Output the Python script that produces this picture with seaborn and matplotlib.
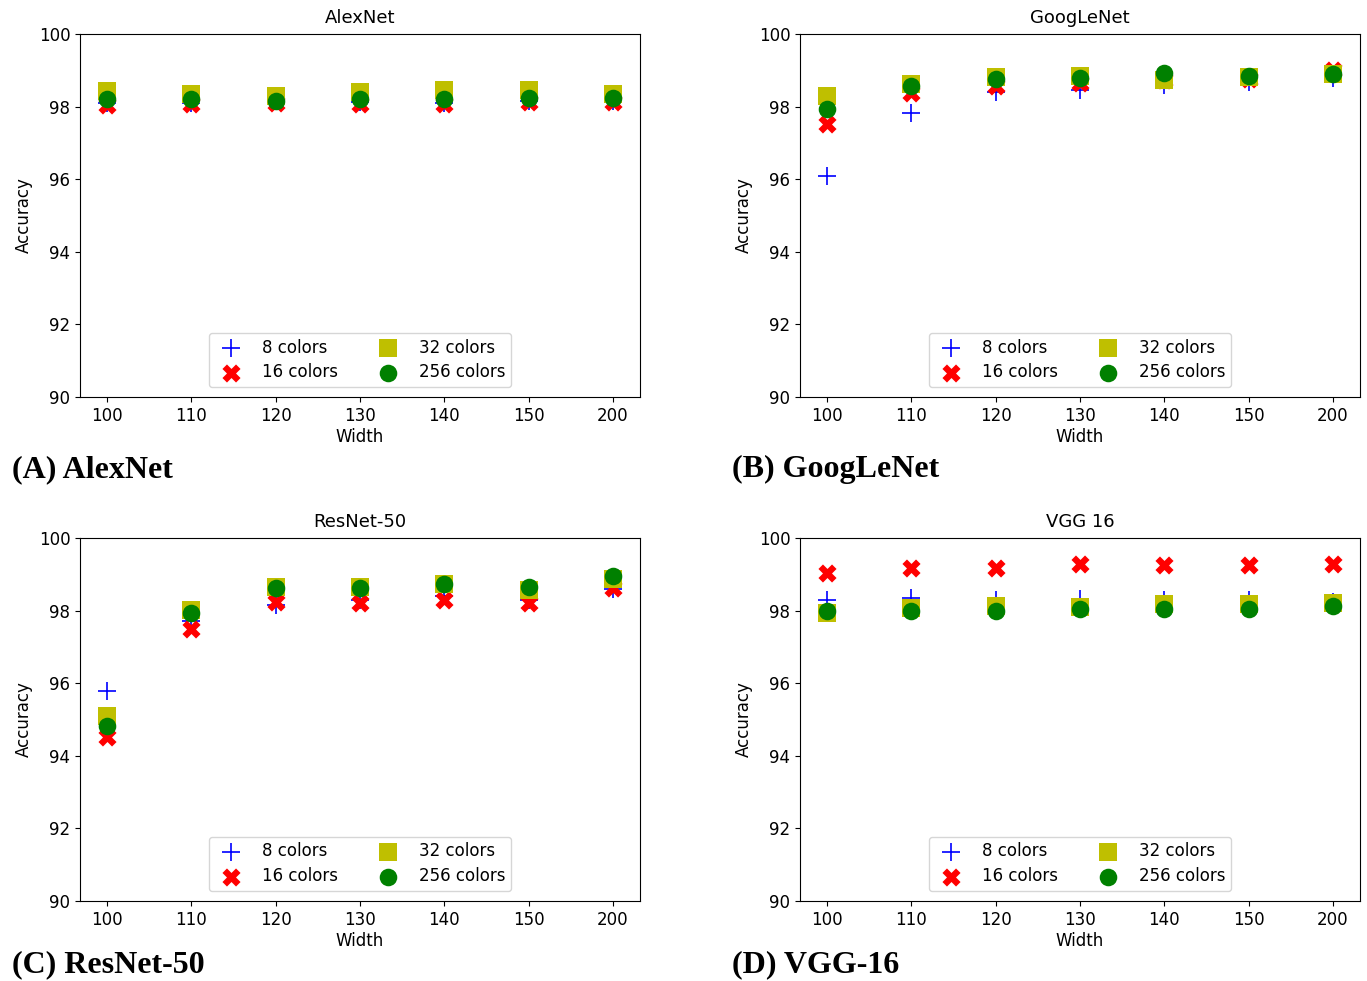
import numpy as np
import pandas as pd
import matplotlib
matplotlib.use('Agg')
import matplotlib.pyplot as plt
import seaborn as sns

widths = ['100', '110', '120', '130', '140', '150', '200']
series = ['8 colors', '16 colors', '32 colors', '256 colors']

# accuracy per network, per color count
alexnet = {
    '8 colors':   [98.10, 98.10, 98.15, 98.12, 98.10, 98.15, 98.15],
    '16 colors':  [98.05, 98.08, 98.10, 98.08, 98.08, 98.12, 98.12],
    '32 colors':  [98.42, 98.35, 98.30, 98.40, 98.45, 98.45, 98.35],
    '256 colors': [98.20, 98.22, 98.15, 98.20, 98.22, 98.25, 98.25],
}
googlenet = {
    '8 colors':   [96.09, 97.83, 98.41, 98.46, 98.60, 98.68, 98.78],
    '16 colors':  [97.52, 98.38, 98.57, 98.64, 98.74, 98.75, 99.00],
    '32 colors':  [98.29, 98.62, 98.81, 98.84, 98.74, 98.82, 98.90],
    '256 colors': [97.93, 98.58, 98.75, 98.80, 98.92, 98.85, 98.90],
}
resnet50 = {
    '8 colors':   [95.78, 97.70, 98.15, 98.30, 98.40, 98.30, 98.60],
    '16 colors':  [94.51, 97.50, 98.24, 98.20, 98.29, 98.20, 98.61],
    '32 colors':  [95.10, 98.02, 98.64, 98.64, 98.73, 98.57, 98.86],
    '256 colors': [94.83, 97.93, 98.61, 98.63, 98.73, 98.66, 98.95],
}
vgg16 = {
    '8 colors':   [98.30, 98.34, 98.30, 98.32, 98.30, 98.30, 98.25],
    '16 colors':  [99.03, 99.17, 99.17, 99.28, 99.26, 99.26, 99.28],
    '32 colors':  [97.94, 98.08, 98.13, 98.10, 98.18, 98.18, 98.22],
    '256 colors': [98.00, 98.00, 98.00, 98.04, 98.04, 98.04, 98.13],
}

panels = [
    ('AlexNet', '(A) AlexNet', alexnet),
    ('GoogLeNet', '(B) GoogLeNet', googlenet),
    ('ResNet-50', '(C) ResNet-50', resnet50),
    ('VGG 16', '(D) VGG-16', vgg16),
]

styles = {
    '8 colors':   dict(marker='+', color='b', s=170, linewidth=1.2),
    '16 colors':  dict(marker='X', color='r', s=170, linewidth=0),
    '32 colors':  dict(marker='s', color='y', s=150, linewidth=0),
    '256 colors': dict(marker='o', color='g', s=160, linewidth=0),
}

fig = plt.figure(figsize=(13.67, 9.81), dpi=100)
W, H = 1367.0, 981.0
# axes boxes in pixels (left, top) plus offset of the panel caption baseline
boxes = [(80, 34, 80), (800, 34, 80), (80, 538, 71), (800, 538, 71)]
aw, ah = 560, 363

for (title, label, data), (x0, y0, cap) in zip(panels, boxes):
    ax = fig.add_axes([x0 / W, 1 - (y0 + ah) / H, aw / W, ah / H])
    for name in series:
        df = pd.DataFrame({'Width': widths, 'Accuracy': data[name]})
        sns.scatterplot(data=df, x='Width', y='Accuracy', ax=ax,
                        label=name, **styles[name])
    ax.set_xlim(-0.32, 6.32)
    ax.set_ylim(90, 100)
    ax.set_yticks(np.arange(90, 101, 2))
    ax.tick_params(labelsize=12)
    ax.set_title(title, fontsize=13, pad=8)
    ax.set_xlabel('Width', fontsize=12, labelpad=2)
    ax.set_ylabel('Accuracy', fontsize=12)
    ax.legend(loc='lower center', ncol=2, fontsize=12, markerscale=1.0,
              bbox_to_anchor=(0.5, 0.0), columnspacing=2.0,
              handlelength=2.0, handletextpad=0.85, borderpad=0.35,
              labelspacing=0.4, borderaxespad=0.6)
    fig.text((x0 - 68) / W, 1 - (y0 + ah + cap) / H, label,
             fontsize=23, fontweight='bold', family='Liberation Serif',
             va='baseline')

fig.savefig('out.png', dpi=100)
